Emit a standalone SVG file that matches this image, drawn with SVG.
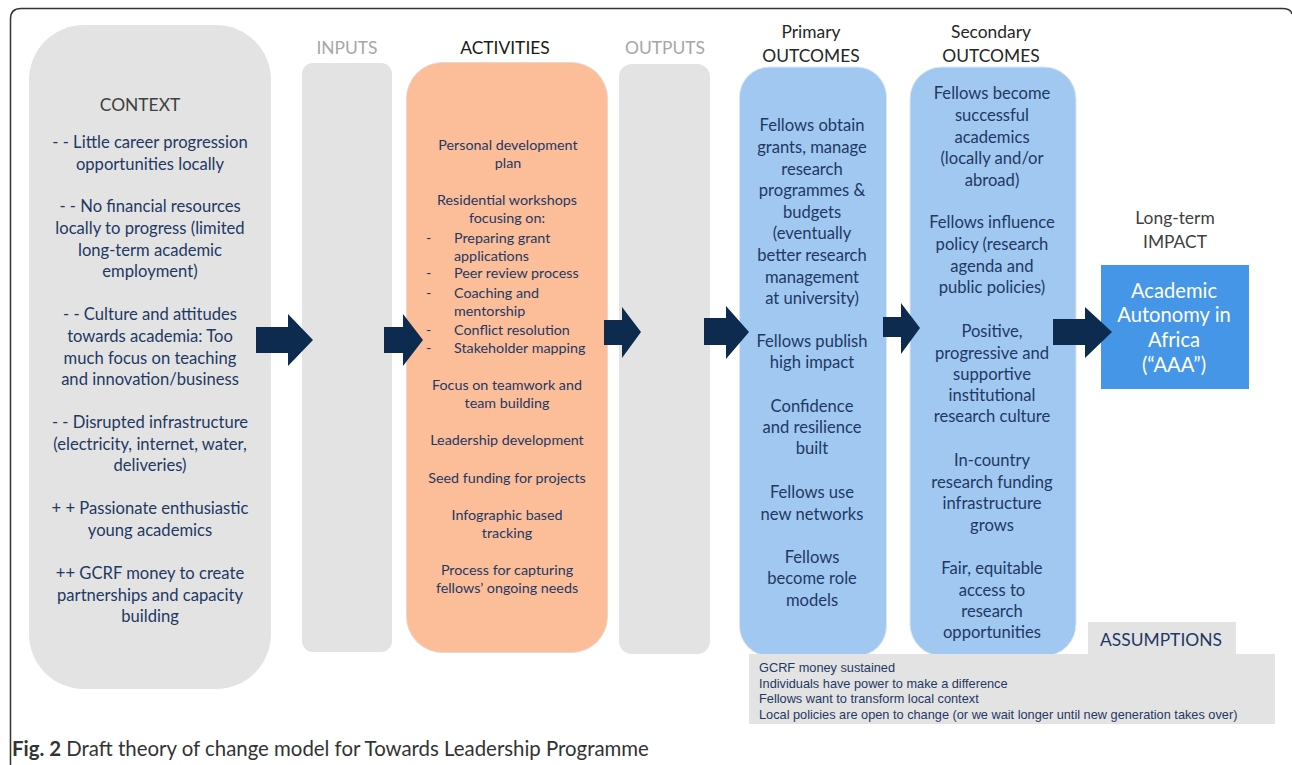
<svg xmlns="http://www.w3.org/2000/svg" width="1292" height="765" viewBox="0 0 1292 765">
<style>
.t{font-family:Lato,"Liberation Sans",sans-serif;text-anchor:middle}
.b18{font-size:16.6px;fill:#1f3864}
.b15{font-size:14.3px;fill:#1f3864}
.hd{font-size:17.4px}
.grey{fill:#e3e3e3}
.arr{fill:#0c2b4e}
.as{font-family:"Liberation Sans",Arial,sans-serif;font-size:12.75px;fill:#1f3864}
</style>
<rect width="1292" height="765" fill="#ffffff"/>
<path d="M10.5 765 V19 Q10.5 8.5 21 8.5 H1282 Q1291 8.5 1292 14" fill="none" stroke="#333" stroke-width="1.5"/>

<g id="context">
<rect class="grey" x="29" y="25" width="242" height="664" rx="55"/>
<text class="t hd" x="140" y="111" fill="#404040">CONTEXT</text>
<g class="t b18">
<text x="150" y="148">- - Little career progression</text>
<text x="150" y="170">opportunities locally</text>
<text x="150" y="212">- - No financial resources</text>
<text x="150" y="234">locally to progress (limited</text>
<text x="150" y="256">long-term academic</text>
<text x="150" y="277">employment)</text>
<text x="150" y="320">- - Culture and attitudes</text>
<text x="150" y="342">towards academia: Too</text>
<text x="150" y="364">much focus on teaching</text>
<text x="150" y="385">and innovation/business</text>
<text x="150" y="428">- - Disrupted infrastructure</text>
<text x="150" y="450">(electricity, internet, water,</text>
<text x="150" y="471">deliveries)</text>
<text x="150" y="514">+ + Passionate enthusiastic</text>
<text x="150" y="536">young academics</text>
<text x="150" y="579">++ GCRF money to create</text>
<text x="150" y="601">partnerships and capacity</text>
<text x="150" y="622">building</text>
</g>
</g>

<g id="inputs">
<text class="t hd" x="347" y="54" fill="#a6a6a6">INPUTS</text>
<rect class="grey" x="302" y="63" width="90" height="589" rx="11"/>
</g>

<g id="activities">
<text class="t hd" x="505" y="54" fill="#1a1a1a">ACTIVITIES</text>
<rect x="406.5" y="62.5" width="201" height="590" rx="36" fill="#fbbe98" stroke="#e9d8cc" stroke-width="1"/>
<g class="t b15">
<text x="508" y="150">Personal development</text>
<text x="508" y="168">plan</text>
<text x="507" y="205">Residential workshops</text>
<text x="507" y="223">focusing on:</text>
<text x="507" y="390">Focus on teamwork and</text>
<text x="507" y="408">team building</text>
<text x="507" y="445">Leadership development</text>
<text x="507" y="483">Seed funding for projects</text>
<text x="507" y="520">Infographic based</text>
<text x="507" y="538">tracking</text>
<text x="507" y="575">Process for capturing</text>
<text x="507" y="593">fellows’ ongoing needs</text>
</g>
<g class="t b15" style="text-anchor:start">
<text x="426" y="243">-</text><text x="454" y="243">Preparing grant</text>
<text x="454" y="261">applications</text>
<text x="426" y="278">-</text><text x="454" y="278">Peer review process</text>
<text x="426" y="298">-</text><text x="454" y="298">Coaching and</text>
<text x="454" y="316">mentorship</text>
<text x="426" y="335">-</text><text x="454" y="335">Conflict resolution</text>
<text x="426" y="353">-</text><text x="454" y="353">Stakeholder mapping</text>
</g>
</g>

<g id="outputs">
<text class="t hd" x="665" y="54" fill="#a6a6a6">OUTPUTS</text>
<rect class="grey" x="619" y="64" width="91" height="590" rx="13"/>
</g>

<g id="primary">
<text class="t hd" x="811" y="38" fill="#262626">Primary</text>
<text class="t hd" x="811" y="62" fill="#262626">OUTCOMES</text>
<rect x="739.5" y="67" width="147" height="589" rx="30" fill="#a0c8f0" stroke="#dde6ee" stroke-width="1"/>
<g class="t b18">
<text x="812" y="131">Fellows obtain</text>
<text x="812" y="153">grants, manage</text>
<text x="812" y="175">research</text>
<text x="812" y="196">programmes &amp;</text>
<text x="812" y="218">budgets</text>
<text x="812" y="239">(eventually</text>
<text x="812" y="261">better research</text>
<text x="812" y="283">management</text>
<text x="812" y="304">at university)</text>
<text x="812" y="347">Fellows publish</text>
<text x="812" y="368">high impact</text>
<text x="812" y="412">Confidence</text>
<text x="812" y="433">and resilience</text>
<text x="812" y="454">built</text>
<text x="812" y="498">Fellows use</text>
<text x="812" y="520">new networks</text>
<text x="812" y="563">Fellows</text>
<text x="812" y="584">become role</text>
<text x="812" y="606">models</text>
</g>
</g>

<g id="secondary">
<text class="t hd" x="991" y="38" fill="#262626">Secondary</text>
<text class="t hd" x="991" y="62" fill="#262626">OUTCOMES</text>
<rect x="910" y="67" width="166" height="589" rx="32" fill="#a0c8f0" stroke="#dde6ee" stroke-width="1"/>
<g class="t b18">
<text x="992" y="99">Fellows become</text>
<text x="992" y="121">successful</text>
<text x="992" y="143">academics</text>
<text x="992" y="164">(locally and/or</text>
<text x="992" y="186">abroad)</text>
<text x="992" y="228">Fellows influence</text>
<text x="992" y="250">policy (research</text>
<text x="992" y="272">agenda  and</text>
<text x="992" y="293">public policies)</text>
<text x="992" y="337">Positive,</text>
<text x="992" y="359">progressive and</text>
<text x="992" y="380">supportive</text>
<text x="992" y="401">institutional</text>
<text x="992" y="422">research culture</text>
<text x="992" y="466">In-country</text>
<text x="992" y="488">research funding</text>
<text x="992" y="509">infrastructure</text>
<text x="992" y="531">grows</text>
<text x="992" y="574">Fair, equitable</text>
<text x="992" y="596">access to</text>
<text x="992" y="617">research</text>
<text x="992" y="638">opportunities</text>
</g>
</g>

<g id="impact">
<text class="t hd" x="1175" y="224" fill="#404040">Long-term</text>
<text class="t hd" x="1175" y="248" fill="#404040">IMPACT</text>
<rect x="1101" y="265" width="148" height="124" fill="#4596e6"/>
<g class="t" style="font-size:20.2px;fill:#ffffff">
<text x="1174" y="298">Academic</text>
<text x="1174" y="322">Autonomy in</text>
<text x="1174" y="347">Africa</text>
<text x="1174" y="372">(“AAA”)</text>
</g>
</g>

<g id="assumptions">
<rect class="grey" x="1088" y="622" width="148" height="33"/>
<rect class="grey" x="749" y="654" width="526" height="70"/>
<text class="t hd" x="1161" y="646" fill="#1f3864">ASSUMPTIONS</text>
<text class="as" x="759" y="672">GCRF money sustained</text>
<text class="as" x="759" y="688">Individuals have power to make a difference</text>
<text class="as" x="759" y="703">Fellows want to transform local context</text>
<text class="as" x="759" y="719">Local policies are open to change (or we wait longer until new generation takes over)</text>
</g>

<g id="connectors">
<polygon class="arr" points="256,327 288,327 288,314 313,340 288,366 288,353 256,353"/>
<polygon class="arr" points="384,327 403,327 403,314 423,340 403,366 403,353 384,353"/>
<polygon class="arr" points="604,320 622,320 622,307 641,332 622,358 622,345 604,345"/>
<polygon class="arr" points="704,318 726,318 726,306 749,332 726,359 726,345 704,345"/>
<polygon class="arr" points="883,317 901,317 901,303 920,328 901,354 901,337 883,337"/>
<polygon class="arr" points="1053,319 1085,319 1085,307 1112,332 1085,358 1085,345 1053,345"/>
</g>

<text x="12" y="756" style="font-family:Lato,'Liberation Sans',sans-serif;font-size:20.4px;fill:#333"><tspan font-weight="bold">Fig. 2</tspan> Draft theory of change model for Towards Leadership Programme</text>
</svg>
